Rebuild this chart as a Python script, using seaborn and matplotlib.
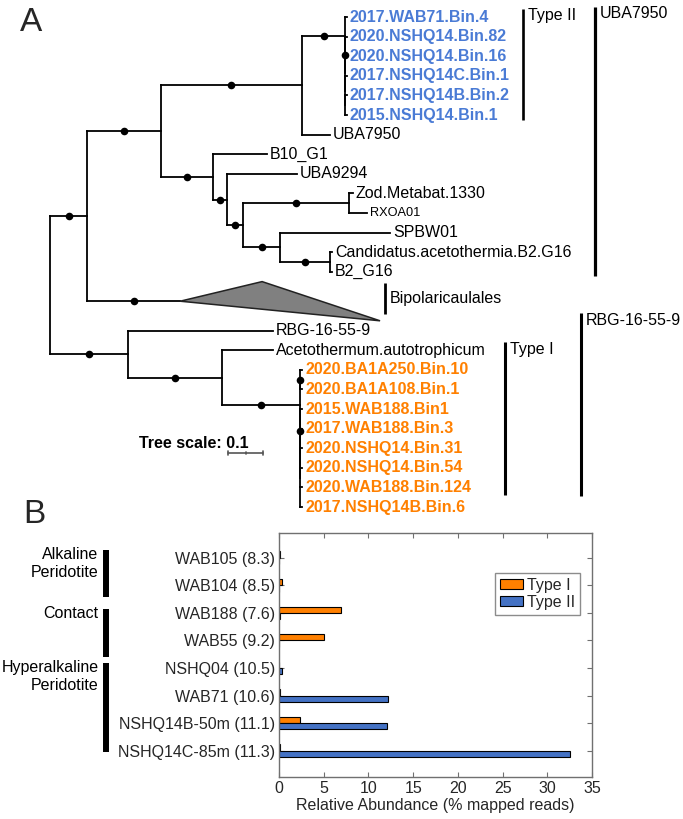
import numpy as np
import pandas as pd
import matplotlib
matplotlib.use("Agg")
import matplotlib.pyplot as plt
import seaborn as sns
from matplotlib.collections import LineCollection
from matplotlib.transforms import blended_transform_factory

# ---------------- data ----------------
# Panel A: phylogeny (Newick, branch lengths read from the tree scale; '*' = supported node)
BLUE_CLADE = ("(2017.WAB71.Bin.4:0.006,(2020.NSHQ14.Bin.82:0.006,(2020.NSHQ14.Bin.16:0.006,"
              "(2017.NSHQ14C.Bin.1:0.006,(2017.NSHQ14B.Bin.2:0.006,2015.NSHQ14.Bin.1:0.006):0):0):0)*:0)*:0.123")
UPPER_REST = ("(B10_G1:0.154,(UBA9294:0.2,((Zod.Metabat.1330:0.011,RXOA01:0.051)*:0.303,"
              "(SPBW01:0.314,(Candidatus.acetothermia.B2.G16:0.006,B2_G16:0.006)*:0.143)*:0.106)*:0.046)*:0.04)*:0.149")
ORANGE_CLADE = ("((2020.BA1A250.Bin.10:0.006,2020.BA1A108.Bin.1:0.006)*:0,(2015.WAB188.Bin1:0.006,"
                "(2017.WAB188.Bin.3:0.006,(2020.NSHQ14.Bin.31:0.006,2020.NSHQ14.Bin.54:0.006,"
                "2020.WAB188.Bin.124:0.006,2017.NSHQ14B.Bin.6:0.006):0):0)*:0)*:0.223")
TREE = ("((((" + BLUE_CLADE + ",UBA7950:0.080)*:0.403," + UPPER_REST + ")*:0.211,Bipolaricaulales*:0.266)*:0.106,"
        "(RBG-16-55-9:0.414,(Acetothermum.autotrophicum:0.146," + ORANGE_CLADE + ")*:0.269)*:0.223);")

COLLAPSED = {"Bipolaricaulales": (0.234, 0.571)}   # min / max depth of collapsed clade
BLUE_TIPS = ["2017.WAB71.Bin.4", "2020.NSHQ14.Bin.82", "2020.NSHQ14.Bin.16",
             "2017.NSHQ14C.Bin.1", "2017.NSHQ14B.Bin.2", "2015.NSHQ14.Bin.1"]
ORANGE_TIPS = ["2020.BA1A250.Bin.10", "2020.BA1A108.Bin.1", "2015.WAB188.Bin1", "2017.WAB188.Bin.3",
               "2020.NSHQ14.Bin.31", "2020.NSHQ14.Bin.54", "2020.WAB188.Bin.124", "2017.NSHQ14B.Bin.6"]
CLADE_NAMES = ["Type II", "UBA7950", "Bipolaricaulales", "Type I", "RBG-16-55-9"]
CLADE_RANGES = [("2017.WAB71.Bin.4", "2015.NSHQ14.Bin.1"),
                ("2017.WAB71.Bin.4", "B2_G16"),
                ("Bipolaricaulales", "Bipolaricaulales"),
                ("Acetothermum.autotrophicum", "2017.NSHQ14B.Bin.6"),
                ("RBG-16-55-9", "2017.NSHQ14B.Bin.6")]
TREE_SCALE = 0.1

# Panel B: relative abundance
SITES = ["WAB105 (8.3)", "WAB104 (8.5)", "WAB188 (7.6)", "WAB55 (9.2)",
         "NSHQ04 (10.5)", "WAB71 (10.6)", "NSHQ14B-50m (11.1)", "NSHQ14C-85m (11.3)"]
TYPE_I = [0.15, 0.38, 6.95, 5.0, 0.05, 0.12, 2.4, 0.08]
TYPE_II = [0.0, 0.0, 0.1, 0.04, 0.35, 12.15, 12.1, 32.5]
GROUPS = ["Alkaline\nPeridotite", "Contact", "Hyperalkaline\nPeridotite"]
GROUP_SIZES = [2, 2, 4]

# ---------------- style ----------------
ORANGE = "#FF8000"
BLUE_BAR = "#4472C4"
BLUE_TXT = "#4A7BD5"
FS = 11.5
sns.set_theme(style="white")
plt.rcParams["font.family"] = ["Liberation Sans", "DejaVu Sans"]

W, H = 683, 819
fig = plt.figure(figsize=(W / 100, H / 100), dpi=100)


# ---------------- tree helpers ----------------
def parse_newick(s):
    pos = 0

    def node():
        nonlocal pos
        children = []
        if s[pos] == "(":
            pos += 1
            while True:
                children.append(node())
                if s[pos] == ",":
                    pos += 1
                    continue
                if s[pos] == ")":
                    pos += 1
                    break
                raise ValueError("bad newick at %d" % pos)
        start = pos
        while pos < len(s) and s[pos] not in ":,);":
            pos += 1
        name = s[start:pos]
        length = 0.0
        if pos < len(s) and s[pos] == ":":
            pos += 1
            start = pos
            while s[pos] not in ",);":
                pos += 1
            length = float(s[start:pos])
        dot = name.endswith("*")
        return {"name": name.rstrip("*"), "length": length, "children": children, "dot": dot}

    return node()


root = parse_newick(TREE)
slot = [0.0]
leaves = []


def layout(n, x0):
    n["x"] = x0 + n["length"]
    if n["children"]:
        for c in n["children"]:
            layout(c, n["x"])
        n["y"] = (n["children"][0]["y"] + n["children"][-1]["y"]) / 2
    else:
        span = 2 if n["name"] in COLLAPSED else 1
        n["y"] = slot[0] + (span - 1) / 2
        slot[0] += span
        leaves.append(n)


root["length"] = 0.0
layout(root, 0.0)

segs, dot_x, dot_y = [], [], []


def collect(n):
    for c in n["children"]:
        segs.append([(n["x"], c["y"]), (c["x"], c["y"])])
        if c["dot"]:
            dot_x.append((n["x"] + c["x"]) / 2)
            dot_y.append(c["y"])
        collect(c)
    if n["children"]:
        segs.append([(n["x"], n["children"][0]["y"]), (n["x"], n["children"][-1]["y"])])


collect(root)
leaf_y = {l["name"]: l["y"] for l in leaves}

# ---------------- panel A ----------------
PXU, PXS = 350.0, 19.6          # px per branch-length unit, px per tip slot
TOP_B = 533                     # top of panel B axes in px
axT = fig.add_axes([0, 1 - TOP_B / H, 1, TOP_B / H])
axT.add_collection(LineCollection(segs, colors="black", linewidths=1.3, capstyle="projecting"))
sns.scatterplot(x=dot_x, y=dot_y, ax=axT, color="black", s=30, linewidth=0, legend=False, zorder=5)

for l in leaves:
    name = l["name"]
    if name in COLLAPSED:
        dmin, dmax = COLLAPSED[name]
        axT.fill([l["x"], l["x"] + dmin, l["x"] + dmax], [l["y"], l["y"] - 1.0, l["y"] + 1.0],
                 facecolor="#808080", edgecolor="#222222", lw=1.1, zorder=3)
        continue
    if name in BLUE_TIPS:
        kw = dict(color=BLUE_TXT, fontweight="bold", fontsize=FS)
    elif name in ORANGE_TIPS:
        kw = dict(color=ORANGE, fontweight="bold", fontsize=FS)
    elif name == "RXOA01":
        kw = dict(color="black", fontsize=9.2)
    else:
        kw = dict(color="black", fontsize=FS)
    axT.annotate(name, (l["x"], l["y"]), xytext=(2.0, 0), textcoords="offset points",
                 ha="left", va="center", **kw)

# clade annotation bars
clade_style = {  # x (px), top pad, bottom pad, lw, label centred?
    "Type II": (523, -0.42, 0.25, 1.9, False),
    "UBA7950": (595, -0.52, 0.2, 2.3, False),
    "Bipolaricaulales": (385, -0.95, 0.65, 2.0, True),
    "Type I": (505, -0.42, -0.6, 2.2, False),
    "RBG-16-55-9": (581, -0.9, -0.55, 2.2, False),
}
for cname, (a, b) in zip(CLADE_NAMES, CLADE_RANGES):
    xpx, tp, bp, lw, centred = clade_style[cname]
    xb = (xpx - 50) / PXU
    y0, y1 = leaf_y[a] + tp, leaf_y[b] + bp
    axT.plot([xb, xb], [y0, y1], color="black", lw=lw, solid_capstyle="butt")
    ly = (y0 + y1) / 2 if centred else y0 + 0.36
    axT.text(xb + 5 / PXU, ly, cname, ha="left", va="center", fontsize=FS, color="black")

# tree scale
sx0 = (228 - 50) / PXU
sy = (453 - 17) / PXS
axT.plot([sx0, sx0 + TREE_SCALE], [sy, sy], color="#555555", lw=1.2)
for xx, hh in [(sx0, 0.12), (sx0 + TREE_SCALE / 2, 0.07), (sx0 + TREE_SCALE, 0.12)]:
    axT.plot([xx, xx], [sy - hh, sy + hh], color="#555555", lw=1.2)
axT.text((249 - 50) / PXU, (443 - 17) / PXS, "Tree scale: 0.1", ha="right", va="center",
         fontsize=FS, fontweight="bold", color="black")

axT.set_xlim(-50 / PXU, (W - 50) / PXU)
axT.set_ylim((TOP_B - 17) / PXS, -17 / PXS)
axT.axis("off")

# ---------------- panel B ----------------
axB = fig.add_axes([279 / W, 1 - 777 / H, (592 - 279) / W, (777 - 533) / H])
df = pd.DataFrame({
    "Site": SITES * 2,
    "Type": ["Type I"] * len(SITES) + ["Type II"] * len(SITES),
    "Abundance": TYPE_I + TYPE_II,
})
sns.barplot(data=df, x="Abundance", y="Site", hue="Type", order=SITES,
            hue_order=["Type I", "Type II"], palette=[ORANGE, BLUE_BAR], orient="h",
            width=0.46, edgecolor="black", linewidth=0.8, errorbar=None, saturation=1, ax=axB)
axB.set_xlim(0, 35)
axB.set_xticks(np.arange(0, 36, 5))
axB.set_ylim(7.954, -0.896)
axB.set_ylabel("")
axB.set_xlabel("Relative Abundance (% mapped reads)", fontsize=FS, color="#262626", labelpad=1)
for sp in axB.spines.values():
    sp.set_visible(True)
    sp.set_color("#707070")
    sp.set_linewidth(1.0)
axB.tick_params(direction="in", length=3.5, width=0.8, color="#707070", top=True, right=True,
                bottom=True, left=True, labelsize=FS, labelcolor="#262626", pad=3)
sns.move_legend(axB, "upper right", bbox_to_anchor=(0.962, 0.836), title=None, fontsize=FS,
                frameon=True, fancybox=False, edgecolor="#707070", handlelength=1.45,
                handleheight=0.55, labelspacing=0.12, borderpad=0.3, handletextpad=0.25,
                borderaxespad=0)
leg = axB.get_legend()
leg.get_frame().set_linewidth(1.0)
for h in leg.legend_handles:
    h.set_edgecolor("black")
    h.set_linewidth(0.8)

# group labels
trans = blended_transform_factory(fig.transFigure, axB.transData)
pads = [(0.28, 0.43), (0.14, 0.6), (0.18, 0.05)]
start = 0
for g, n, (tp, bp) in zip(GROUPS, GROUP_SIZES, pads):
    y0, y1 = start - tp, start + n - 1 + bp
    axB.plot([106 / W, 106 / W], [y0, y1], color="black", lw=4.3, solid_capstyle="butt",
             transform=trans, clip_on=False)
    axB.text(98.5 / W, y0 - 0.1, g, transform=trans, ha="right", va="top", ma="right",
             fontsize=FS, color="black")
    start += n

# panel letters
fig.text(20 / W, 1 - 31 / H, "A", fontsize=24, ha="left", va="baseline")
fig.text(23 / W, 1 - 523 / H, "B", fontsize=24, ha="left", va="baseline")

fig.savefig("out.png", dpi=100)
